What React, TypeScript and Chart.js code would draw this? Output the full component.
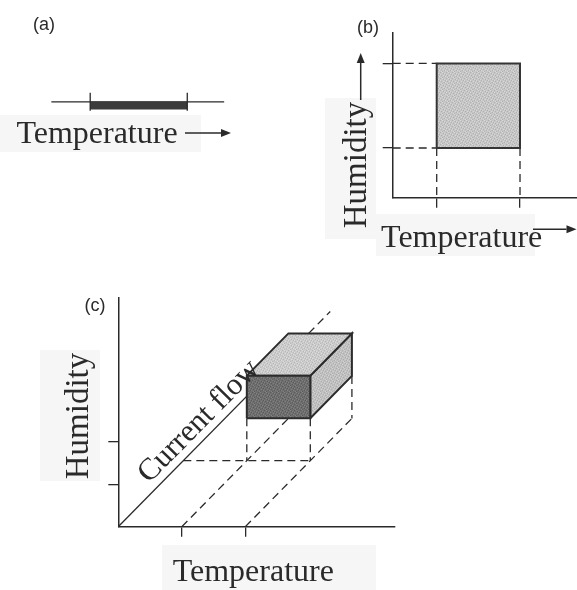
import React, { useEffect, useRef } from "react";
import { Chart, registerables } from "chart.js";

Chart.register(...registerables);

// ---------------- data ----------------
const TEMP_RANGE = [5, 10]; // tolerated temperature band
const HUMID_RANGE = [5, 10]; // tolerated humidity band
const CURRENT_RANGE = [5, 8.2]; // tolerated current band
const TEMP_AXIS_A = [3, 11.9]; // extent of the 1-D temperature axis, panel (a)
const CURRENT_AXIS_MAX = 16.3; // extent of the current-flow axis, panel (c)
const CURRENT_LABEL_POS = 7.1; // where the "Current flow" title sits along its axis
const PANEL_LABELS = ["(a)", "(b)", "(c)"];
const TEMP_TITLE = "Temperature";
const HUMID_TITLE = "Humidity";
const CURRENT_TITLE = "Current flow";

// ---------------- styles / layout ----------------
const INK = "#2a2a2a";
const SERIF = '"Liberation Serif", "Times New Roman", serif';
const SANS = '"Liberation Sans", Arial, sans-serif';
const DASH = [8, 5];
const KX = 1.024; // oblique projection of the current axis (x share)
const KY = 1.553; // oblique projection of the current axis (y share)

const PANEL_A = { left: 0, top: 0, width: 290, height: 200 };
const PANEL_B = { left: 290, top: 0, width: 287, height: 260 };
const PANEL_C = { left: 0, top: 260, width: 577, height: 330 };

const PATCHES = [
  { l: 0, t: 115, w: 201, h: 37 },
  { l: 325, t: 98, w: 51, h: 141 },
  { l: 376, t: 214, w: 159, h: 42 },
  { l: 40, t: 350, w: 60, h: 131 },
  { l: 162, t: 545, w: 214, h: 45 },
];

const FACE_COLORS: Record<string, [string, string, string]> = {
  rect: ["#c6c6c6", "#b0b0b0", "#d8d8d8"],
  front: ["#6e6e6e", "#5b5b5b", "#828282"],
  top: ["#cbcbcb", "#b7b7b7", "#dcdcdc"],
  right: ["#c0c0c0", "#adadad", "#d2d2d2"],
};

function makePattern(ctx: CanvasRenderingContext2D, key: string) {
  const [base, dark, light] = FACE_COLORS[key];
  const c = document.createElement("canvas");
  c.width = 6;
  c.height = 6;
  const g = c.getContext("2d")!;
  g.fillStyle = base;
  g.fillRect(0, 0, 6, 6);
  g.fillStyle = dark;
  [[0, 0], [3, 1], [1, 3], [4, 4], [2, 5], [5, 2]].forEach(([x, y]) => g.fillRect(x, y, 1, 1));
  g.fillStyle = light;
  [[2, 0], [5, 4], [0, 2], [3, 3], [1, 5], [4, 1]].forEach(([x, y]) => g.fillRect(x, y, 1, 1));
  return ctx.createPattern(c, "repeat")!;
}

const facePlugin = {
  id: "faces",
  beforeDatasetDraw(chart: any, args: any) {
    const ds = chart.data.datasets[args.index];
    if (!ds.faceKey) return;
    const ctx = chart.ctx as CanvasRenderingContext2D;
    if (!chart.$patterns) chart.$patterns = {};
    if (!chart.$patterns[ds.faceKey]) chart.$patterns[ds.faceKey] = makePattern(ctx, ds.faceKey);
    const pts = args.meta.data;
    ctx.save();
    ctx.beginPath();
    pts.forEach((p: any, i: number) => (i ? ctx.lineTo(p.x, p.y) : ctx.moveTo(p.x, p.y)));
    ctx.closePath();
    ctx.fillStyle = chart.$patterns[ds.faceKey];
    ctx.fill();
    ctx.restore();
  },
};

function seg(points: { x: number; y: number }[], extra: any = {}) {
  return {
    data: points,
    borderColor: INK,
    borderWidth: 1.3,
    pointRadius: 0,
    pointHoverRadius: 0,
    tension: 0,
    fill: false,
    borderCapStyle: "butt",
    ...extra,
  };
}

function baseOptions(scales: any, padding: any = 0) {
  return {
    responsive: false,
    maintainAspectRatio: false,
    animation: false,
    devicePixelRatio: 1,
    events: [],
    layout: { padding },
    plugins: { legend: { display: false }, tooltip: { enabled: false }, title: { display: false } },
    scales,
  };
}

function axisScale(min: number, max: number, ticks: number[]) {
  return {
    type: "linear",
    min,
    max,
    afterBuildTicks: (s: any) => {
      s.ticks = ticks.map((v) => ({ value: v }));
    },
    ticks: { display: false },
    grid: { drawOnChartArea: false, drawTicks: true, tickLength: 10, color: INK, lineWidth: 1.3 },
    border: { display: true, color: INK, width: 1.5 },
  };
}

function drawText(ctx: CanvasRenderingContext2D, text: string, x: number, y: number, font: string, angle = 0, align: CanvasTextAlign = "center") {
  ctx.save();
  ctx.translate(x, y);
  if (angle) ctx.rotate(angle);
  ctx.font = font;
  ctx.fillStyle = INK;
  ctx.textAlign = align;
  ctx.textBaseline = "alphabetic";
  ctx.fillText(text, 0, 0);
  ctx.restore();
}

function drawArrow(ctx: CanvasRenderingContext2D, x1: number, y1: number, x2: number, y2: number, head = 10, half = 4) {
  const a = Math.atan2(y2 - y1, x2 - x1);
  const bx = x2 - head * Math.cos(a);
  const by = y2 - head * Math.sin(a);
  ctx.save();
  ctx.strokeStyle = INK;
  ctx.fillStyle = INK;
  ctx.lineWidth = 1.5;
  ctx.beginPath();
  ctx.moveTo(x1, y1);
  ctx.lineTo(bx, by);
  ctx.stroke();
  ctx.beginPath();
  ctx.moveTo(x2, y2);
  ctx.lineTo(bx + half * Math.sin(a), by - half * Math.cos(a));
  ctx.lineTo(bx - half * Math.sin(a), by + half * Math.cos(a));
  ctx.closePath();
  ctx.fill();
  ctx.restore();
}

const LABEL_FONT = `18px ${SANS}`;
const TEMP_FONT = `32px ${SERIF}`;
const HUMID_FONT = `33px ${SERIF}`;
const CURRENT_FONT = `31px ${SERIF}`;

function buildA(canvas: HTMLCanvasElement) {
  const [t1, t2] = TEMP_RANGE;
  const annot = {
    id: "annotA",
    afterDraw(chart: any) {
      const ctx = chart.ctx;
      drawText(ctx, PANEL_LABELS[0], 44, 30, LABEL_FONT);
      drawText(ctx, TEMP_TITLE, 97, 143, TEMP_FONT);
      drawArrow(ctx, 185, 133, 231, 133);
    },
  };
  return new Chart(canvas, {
    type: "line",
    data: {
      datasets: [
        seg([{ x: t1, y: 0 }, { x: t2, y: 0 }], {
          showLine: false,
          pointStyle: "line",
          rotation: 90,
          pointRadius: 9,
          pointHoverRadius: 9,
          pointBorderWidth: 1.3,
          pointBorderColor: INK,
        }),
        seg([{ x: t1, y: -0.04 }, { x: t2, y: -0.04 }], { borderWidth: 8, borderColor: "#3c3c3c" }),
        seg(TEMP_AXIS_A.map((t) => ({ x: t, y: 0 }))),
      ],
    },
    options: baseOptions({
      x: { type: "linear", display: false, min: 0.885, max: 14.76 },
      y: { type: "linear", display: false, min: -0.98, max: 1.02 },
    }) as any,
    plugins: [annot],
  } as any);
}

function buildB(canvas: HTMLCanvasElement) {
  const [t1, t2] = TEMP_RANGE;
  const [h1, h2] = HUMID_RANGE;
  const xmin = 2.359;
  const ymin = 2.06;
  const annot = {
    id: "annotB",
    afterDraw(chart: any) {
      const ctx = chart.ctx;
      const ox = PANEL_B.left;
      drawText(ctx, PANEL_LABELS[1], 368 - ox, 32.5, LABEL_FONT);
      drawText(ctx, HUMID_TITLE, 366 - ox, 165, HUMID_FONT, -Math.PI / 2);
      drawArrow(ctx, 360.7 - ox, 100, 360.7 - ox, 53);
      drawText(ctx, TEMP_TITLE, 461.7 - ox, 246.7, TEMP_FONT);
      drawArrow(ctx, 533 - ox, 229.3, 576.5 - ox, 229.3);
    },
  };
  return new Chart(canvas, {
    type: "line",
    data: {
      datasets: [
        seg(
          [
            { x: t1, y: h1 },
            { x: t2, y: h1 },
            { x: t2, y: h2 },
            { x: t1, y: h2 },
            { x: t1, y: h1 },
          ],
          { borderWidth: 2, borderColor: "#353535", faceKey: "rect", borderJoinStyle: "miter" }
        ),
        seg([{ x: xmin, y: h1 }, { x: t1, y: h1 }], { borderDash: DASH }),
        seg([{ x: xmin, y: h2 }, { x: t1, y: h2 }], { borderDash: DASH }),
        seg([{ x: t1, y: h1 }, { x: t1, y: ymin }], { borderDash: DASH }),
        seg([{ x: t2, y: h1 }, { x: t2, y: ymin }], { borderDash: DASH }),
      ],
    },
    options: baseOptions(
      { x: axisScale(xmin, 13.42, TEMP_RANGE), y: axisScale(ymin, 11.8, HUMID_RANGE) },
      { left: 92.7, right: 0, top: 33, bottom: 52.3 }
    ) as any,
    plugins: [facePlugin, annot],
  } as any);
}

function buildC(canvas: HTMLCanvasElement) {
  const [t1, t2] = TEMP_RANGE;
  const [h1, h2] = HUMID_RANGE;
  const [c1, c2] = CURRENT_RANGE;
  const P = (t: number, h: number, c: number) => ({ x: t + c * KX, y: h + c * KY });
  const cExit = h2 / KY + c2; // where the current axis reappears behind the box
  const dashed = { borderDash: DASH };
  const face = (key: string) => ({ faceKey: key, borderWidth: 2, borderColor: "#2c2c2c", borderJoinStyle: "miter" });
  const annot = {
    id: "annotC",
    afterDraw(chart: any) {
      const ctx = chart.ctx;
      const oy = PANEL_C.top;
      drawText(ctx, PANEL_LABELS[2], 95, 310.5 - oy, LABEL_FONT);
      drawText(ctx, HUMID_TITLE, 88, 416 - oy, HUMID_FONT, -Math.PI / 2);
      drawText(ctx, TEMP_TITLE, 253.3, 581 - oy, TEMP_FONT);
      const xs = chart.scales.x;
      const ys = chart.scales.y;
      const p0 = P(0, 0, 0);
      const p1 = P(0, 0, 1);
      const ang = Math.atan2(
        ys.getPixelForValue(p1.y) - ys.getPixelForValue(p0.y),
        xs.getPixelForValue(p1.x) - xs.getPixelForValue(p0.x)
      );
      const pl = P(0, 0, CURRENT_LABEL_POS);
      const lx = xs.getPixelForValue(pl.x) + Math.sin(ang) * 8;
      const ly = ys.getPixelForValue(pl.y) - Math.cos(ang) * 8;
      drawText(ctx, CURRENT_TITLE, lx, ly, CURRENT_FONT, ang);
    },
  };
  return new Chart(canvas, {
    type: "line",
    data: {
      datasets: [
        seg([P(0, 0, cExit), P(0, 0, CURRENT_AXIS_MAX)], dashed),
        seg([P(t1, h1, c1), P(t2, h1, c1), P(t2, h2, c1), P(t1, h2, c1), P(t1, h1, c1)], face("front")),
        seg([P(t1, h2, c1), P(t2, h2, c1), P(t2, h2, c2), P(t1, h2, c2), P(t1, h2, c1)], face("top")),
        seg([P(t2, h1, c1), P(t2, h1, c2), P(t2, h2, c2), P(t2, h2, c1), P(t2, h1, c1)], face("right")),
        seg([P(t2, h1, c2), P(t2, 0, c2)], dashed),
        seg([P(t1, 0, 0), P(t1, 0, c2)], dashed),
        seg([P(t2, 0, 0), P(t2, 0, c2)], dashed),
        seg([P(t1, h1, c1), P(t1, 0, c1)], dashed),
        seg([P(t2, h1, c1), P(t2, 0, c1)], dashed),
        seg([P(0, 0, c1), P(t2, 0, c1)], dashed),
        seg([P(0, 0, 0), P(0, 0, cExit)]),
      ],
    },
    options: baseOptions(
      { x: axisScale(0, 21.79, TEMP_RANGE), y: axisScale(0, 26.9, HUMID_RANGE) },
      { left: 108.3, right: 182, top: 38, bottom: 53.3 }
    ) as any,
    plugins: [facePlugin, annot],
  } as any);
}

export default function App() {
  const refA = useRef<HTMLCanvasElement>(null);
  const refB = useRef<HTMLCanvasElement>(null);
  const refC = useRef<HTMLCanvasElement>(null);

  useEffect(() => {
    const charts = [buildA(refA.current!), buildB(refB.current!), buildC(refC.current!)];
    return () => charts.forEach((c) => c.destroy());
  }, []);

  const cs = (p: { left: number; top: number; width: number; height: number }) => ({
    position: "absolute" as const,
    left: p.left,
    top: p.top,
    width: p.width,
    height: p.height,
  });

  return (
    <div style={{ position: "fixed", left: 0, top: 0, width: 577, height: 590, background: "#ffffff", overflow: "hidden" }}>
      {PATCHES.map((p, i) => (
        <div key={i} style={{ position: "absolute", left: p.l, top: p.t, width: p.w, height: p.h, background: "#f6f6f6" }} />
      ))}
      <canvas ref={refA} width={PANEL_A.width} height={PANEL_A.height} style={cs(PANEL_A)} />
      <canvas ref={refB} width={PANEL_B.width} height={PANEL_B.height} style={cs(PANEL_B)} />
      <canvas ref={refC} width={PANEL_C.width} height={PANEL_C.height} style={cs(PANEL_C)} />
    </div>
  );
}
